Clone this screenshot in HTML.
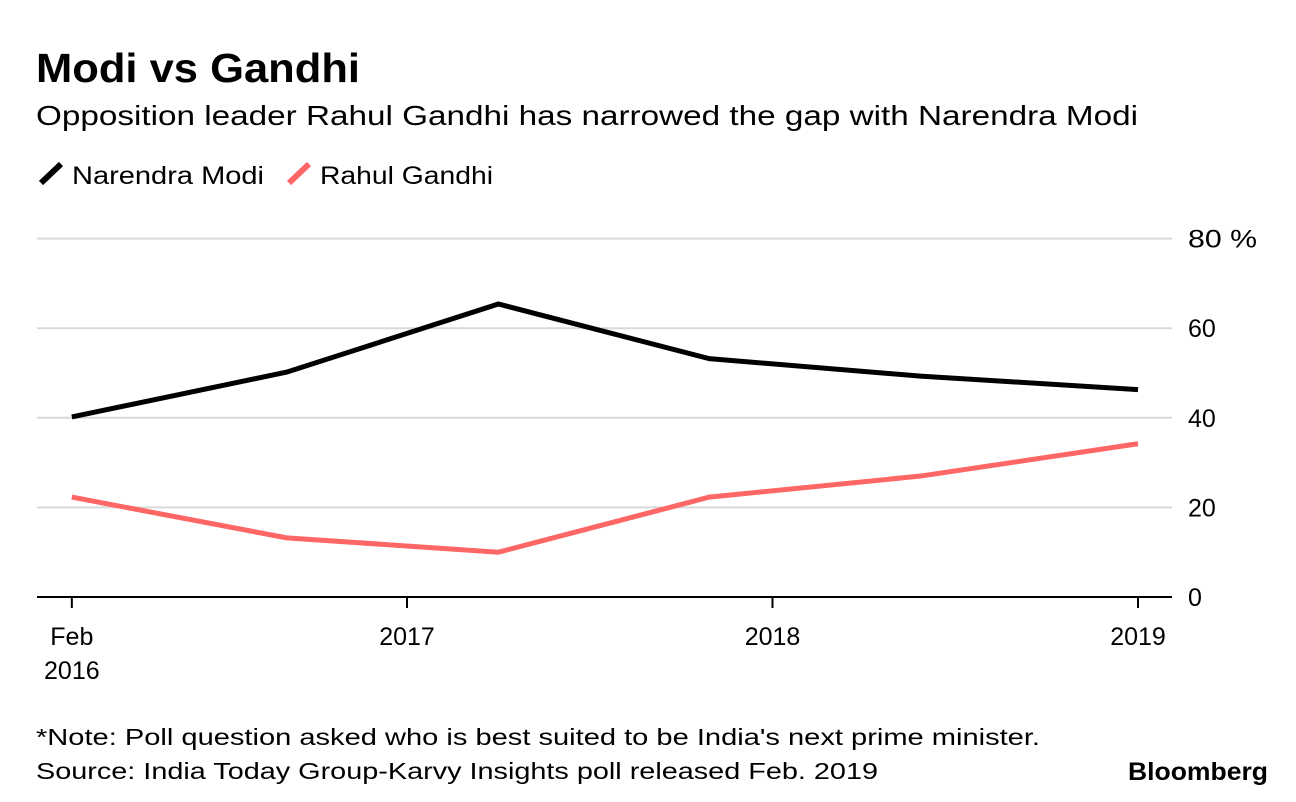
<!DOCTYPE html>
<html><head><meta charset="utf-8"><style>
body{margin:0;width:1296px;height:802px;background:#fff;font-family:"Liberation Sans",sans-serif;overflow:hidden}
svg{position:absolute;left:0;top:0}
</style></head><body>
<svg width="1296" height="802">
<text x="36" y="82" font-size="41" font-weight="bold" fill="#000" textLength="324" lengthAdjust="spacingAndGlyphs">Modi vs Gandhi</text>
<text x="36" y="125" font-size="28" fill="#000" textLength="1102" lengthAdjust="spacingAndGlyphs">Opposition leader Rahul Gandhi has narrowed the gap with Narendra Modi</text>
<g><line x1="41" y1="183" x2="61" y2="164" stroke="#000" stroke-width="6"/><text x="72" y="184" font-size="25" textLength="192" lengthAdjust="spacingAndGlyphs">Narendra Modi</text></g>
<g><line x1="289" y1="183" x2="309" y2="164" stroke="#ff6666" stroke-width="6"/><text x="320" y="184" font-size="25" textLength="173" lengthAdjust="spacingAndGlyphs">Rahul Gandhi</text></g>
<g id="grid"></g><g id="xaxis"></g><g id="lines"></g>
<text x="36" y="745" font-size="23" textLength="1004" lengthAdjust="spacingAndGlyphs">*Note: Poll question asked who is best suited to be India's next prime minister.</text>
<text x="36" y="779" font-size="23" textLength="842" lengthAdjust="spacingAndGlyphs">Source: India Today Group-Karvy Insights poll released Feb. 2019</text>
<text x="1268" y="780" font-size="25" font-weight="bold" text-anchor="end" textLength="140" lengthAdjust="spacingAndGlyphs">Bloomberg</text>
</svg>
<script>
const times=[2016.083,2016.671,2017.25,2017.827,2018.405,2019.0];
const modi=[40.2,50.2,65.4,53.2,49.3,46.3];
const gandhi=[22.3,13.2,10.0,22.3,27.0,34.2];
const yTicks=[0,20,40,60,80];
const yTickLabels=["0","20","40","60","80 %"];
const xTicks=[2016.083,2017,2018,2019];
const xTickLabels=[["Feb","2016"],["2017"],["2018"],["2019"]];
const NS="http://www.w3.org/2000/svg";
const X=t=>407+(t-2017)*365.5;
const Y=v=>597-v*4.48;
function mk(tag,attrs,parent){const e=document.createElementNS(NS,tag);for(const k in attrs)e.setAttribute(k,attrs[k]);document.getElementById(parent).appendChild(e);return e;}
yTicks.forEach((v,i)=>{
 if(v>0){const l=mk('line',{x1:37,x2:1172,y1:Y(v),y2:Y(v),stroke:'#d9d9d9','stroke-width':2},'grid');
 
 }
 const t=mk('text',{x:1188,y:Y(v)+9,'font-size':25},'grid');t.textContent=yTickLabels[i];
 if(v===80){t.setAttribute('textLength','69');t.setAttribute('lengthAdjust','spacingAndGlyphs');}
 
 
});
const ax=mk('line',{x1:37,x2:1172,y1:597,y2:597,stroke:'#000','stroke-width':2},'xaxis');


xTicks.forEach((t,i)=>{
 const tk=mk('line',{x1:X(t),x2:X(t),y1:597,y2:608,stroke:'#000','stroke-width':2},'xaxis');
 
 
 xTickLabels[i].forEach((s,j)=>{const tx=mk('text',{x:X(t),y:645+j*34,'font-size':25,'text-anchor':'middle'},'xaxis');tx.textContent=s;
 
 });
});
function line(vals,color,name){
 const p=mk('polyline',{points:vals.map((v,i)=>X(times[i])+','+Y(v)).join(' '),fill:'none',stroke:color,'stroke-width':5,'stroke-linejoin':'miter'},'lines');
 
 
}
line(gandhi,'#ff6666','gandhi-line');
line(modi,'#000','modi-line');
</script>
</body></html>
